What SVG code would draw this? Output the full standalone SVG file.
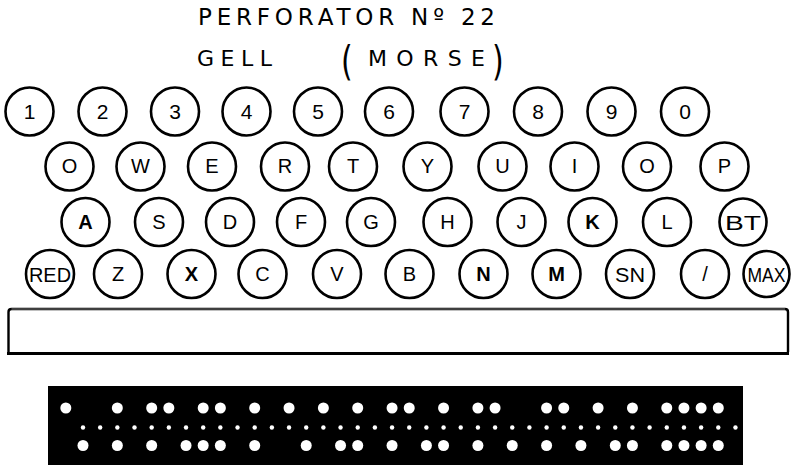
<svg xmlns="http://www.w3.org/2000/svg" width="794" height="467" viewBox="0 0 794 467">
<style>
.k{fill:#fff;stroke:#000;stroke-width:2.6}
.t{font-family:"Liberation Sans",Arial,sans-serif;fill:#000;text-anchor:middle}
.d{font-size:21px}
.l{font-size:20px}
.b{font-weight:bold}
.ti{font-family:"DejaVu Sans","Liberation Sans",Arial,sans-serif;fill:#000}
.h{fill:#fff}
</style>
<rect width="794" height="467" fill="#fff"/>
<g id="title">
<text class="ti" x="198" y="25" font-size="23" textLength="297" lengthAdjust="spacing">PERFORATOR Nº 22</text>
<text class="ti" x="197" y="66" font-size="22" textLength="75" lengthAdjust="spacing">GELL</text>
<text class="ti" x="0" y="0" font-size="30" transform="translate(341,75) scale(1,1.35)">(</text>
<text class="ti" x="368" y="66" font-size="22" textLength="117" lengthAdjust="spacing">MORSE</text>
<text class="ti" x="0" y="0" font-size="30" transform="translate(492,75) scale(1,1.35)">)</text>
</g>
<g id="row1">
<g id="k1"><circle class="k" cx="29.5" cy="111.5" r="24"/><text class="t d" x="29.5" y="119">1</text></g>
<g id="k2"><circle class="k" cx="102.5" cy="111.5" r="24"/><text class="t d" x="102.5" y="119">2</text></g>
<g id="k3"><circle class="k" cx="175" cy="111.5" r="24"/><text class="t d" x="175" y="119">3</text></g>
<g id="k4"><circle class="k" cx="246.5" cy="111.5" r="24"/><text class="t d" x="246.5" y="119">4</text></g>
<g id="k5"><circle class="k" cx="318" cy="111.5" r="24"/><text class="t d" x="318" y="119">5</text></g>
<g id="k6"><circle class="k" cx="389" cy="111.5" r="24"/><text class="t d" x="389" y="119">6</text></g>
<g id="k7"><circle class="k" cx="464.5" cy="111.5" r="24"/><text class="t d" x="464.5" y="119">7</text></g>
<g id="k8"><circle class="k" cx="538" cy="111.5" r="24"/><text class="t d" x="538" y="119">8</text></g>
<g id="k9"><circle class="k" cx="611.5" cy="111.5" r="24"/><text class="t d" x="611.5" y="119">9</text></g>
<g id="k0"><circle class="k" cx="685" cy="111.5" r="24"/><text class="t d" x="685" y="119">0</text></g>
</g>
<g id="row2">
<g id="kQ"><circle class="k" cx="69.5" cy="166.5" r="24"/><text class="t l" x="69.5" y="173">O</text></g>
<g id="kW"><circle class="k" cx="140.5" cy="166.5" r="24"/><text class="t l" x="140.5" y="173">W</text></g>
<g id="kE"><circle class="k" cx="212" cy="166.5" r="24"/><text class="t l" x="212" y="173">E</text></g>
<g id="kR"><circle class="k" cx="285" cy="166.5" r="24"/><text class="t l" x="285" y="173">R</text></g>
<g id="kT"><circle class="k" cx="353" cy="166.5" r="24"/><text class="t l" x="353" y="173">T</text></g>
<g id="kY"><circle class="k" cx="427.5" cy="166.5" r="24"/><text class="t l" x="427.5" y="173">Y</text></g>
<g id="kU"><circle class="k" cx="502.5" cy="166.5" r="24"/><text class="t l" x="502.5" y="173">U</text></g>
<g id="kI"><circle class="k" cx="574.5" cy="166.5" r="24"/><text class="t l" x="574.5" y="173">I</text></g>
<g id="kO"><circle class="k" cx="647" cy="166.5" r="24"/><text class="t l" x="647" y="173">O</text></g>
<g id="kP"><circle class="k" cx="724.5" cy="166.5" r="24"/><text class="t l" x="724.5" y="173">P</text></g>
</g>
<g id="row3">
<g id="kA"><circle class="k" cx="85.5" cy="222" r="24"/><text class="t l b" x="85.5" y="229">A</text></g>
<g id="kS"><circle class="k" cx="159" cy="222" r="24"/><text class="t l" x="159" y="229">S</text></g>
<g id="kD"><circle class="k" cx="230" cy="222" r="24"/><text class="t l" x="230" y="229">D</text></g>
<g id="kF"><circle class="k" cx="301" cy="222" r="24"/><text class="t l" x="301" y="229">F</text></g>
<g id="kG"><circle class="k" cx="371" cy="222" r="24"/><text class="t l" x="371" y="229">G</text></g>
<g id="kH"><circle class="k" cx="447.5" cy="222" r="24"/><text class="t l" x="447.5" y="229">H</text></g>
<g id="kJ"><circle class="k" cx="521.5" cy="222" r="24"/><text class="t l" x="521.5" y="229">J</text></g>
<g id="kK"><circle class="k" cx="592.5" cy="222" r="24"/><text class="t l b" x="592.5" y="229">K</text></g>
<g id="kL"><circle class="k" cx="667" cy="222" r="24"/><text class="t l" x="667" y="229">L</text></g>
<g id="kBT"><circle class="k" cx="743" cy="222" r="23.5"/><text class="t l" x="743" y="230" font-size="23" textLength="36" lengthAdjust="spacingAndGlyphs">BT</text></g>
</g>
<g id="row4">
<g id="kRED"><circle class="k" cx="50" cy="274" r="24"/><text class="t l" x="50" y="281.5" font-size="21" textLength="42" lengthAdjust="spacingAndGlyphs">RED</text></g>
<g id="kZ"><circle class="k" cx="118" cy="274" r="24"/><text class="t l" x="118" y="281">Z</text></g>
<g id="kX"><circle class="k" cx="191.5" cy="274" r="24"/><text class="t l b" x="191.5" y="281">X</text></g>
<g id="kC"><circle class="k" cx="262.5" cy="274" r="24"/><text class="t l" x="262.5" y="281">C</text></g>
<g id="kV"><circle class="k" cx="337" cy="274" r="24"/><text class="t l" x="337" y="281">V</text></g>
<g id="kB"><circle class="k" cx="409.5" cy="274" r="24"/><text class="t l" x="409.5" y="281">B</text></g>
<g id="kN"><circle class="k" cx="483.5" cy="274" r="24"/><text class="t l b" x="483.5" y="281">N</text></g>
<g id="kM"><circle class="k" cx="556.5" cy="274" r="24"/><text class="t l b" x="556.5" y="281">M</text></g>
<g id="kSN"><circle class="k" cx="630" cy="274" r="24"/><text class="t l" x="630" y="281.5" font-size="22" textLength="30" lengthAdjust="spacingAndGlyphs">SN</text></g>
<g id="kSL"><circle class="k" cx="705" cy="274" r="24"/><text class="t l" x="705" y="281">/</text></g>
<g id="kMAX"><circle class="k" cx="766.5" cy="274" r="23"/><text class="t l" x="766.5" y="281.5" font-size="20" textLength="38" lengthAdjust="spacingAndGlyphs">MAX</text></g>
</g>
<g id="spacebar" fill="none" stroke="#000">
<path d="M8.5,352 V312 Q8.5,309 11.5,309 H785 Q788,309 788,312 V352" stroke-width="2.4"/>
<path d="M11.5,309 H785" stroke="#555" stroke-width="1.4"/>
<path d="M7,353.5 H789" stroke-width="3"/>
</g>
<g id="tape">
<rect x="48" y="386" width="695" height="79" fill="#000"/>
<g class="h">
<circle cx="65.83" cy="408" r="5.5"/><circle cx="117.34" cy="408" r="5.5"/><circle cx="151.68" cy="408" r="5.5"/><circle cx="168.85" cy="408" r="5.5"/><circle cx="203.19" cy="408" r="5.5"/><circle cx="220.36" cy="408" r="5.5"/><circle cx="254.7" cy="408" r="5.5"/><circle cx="289.04" cy="408" r="5.5"/><circle cx="323.38" cy="408" r="5.5"/><circle cx="357.72" cy="408" r="5.5"/><circle cx="392.06" cy="408" r="5.5"/><circle cx="409.23" cy="408" r="5.5"/><circle cx="443.57" cy="408" r="5.5"/><circle cx="477.91" cy="408" r="5.5"/><circle cx="495.08" cy="408" r="5.5"/><circle cx="546.59" cy="408" r="5.5"/><circle cx="563.76" cy="408" r="5.5"/><circle cx="598.1" cy="408" r="5.5"/><circle cx="632.44" cy="408" r="5.5"/><circle cx="666.78" cy="408" r="5.5"/><circle cx="683.95" cy="408" r="5.5"/><circle cx="701.12" cy="408" r="5.5"/><circle cx="718.29" cy="408" r="5.5"/>
</g>
<g class="h">
<circle cx="83" cy="427.5" r="2.2"/><circle cx="100.17" cy="427.5" r="2.2"/><circle cx="117.34" cy="427.5" r="2.2"/><circle cx="134.51" cy="427.5" r="2.2"/><circle cx="151.68" cy="427.5" r="2.2"/><circle cx="168.85" cy="427.5" r="2.2"/><circle cx="186.02" cy="427.5" r="2.2"/><circle cx="203.19" cy="427.5" r="2.2"/><circle cx="220.36" cy="427.5" r="2.2"/><circle cx="237.53" cy="427.5" r="2.2"/><circle cx="254.7" cy="427.5" r="2.2"/><circle cx="271.87" cy="427.5" r="2.2"/><circle cx="289.04" cy="427.5" r="2.2"/><circle cx="306.21" cy="427.5" r="2.2"/><circle cx="323.38" cy="427.5" r="2.2"/><circle cx="340.55" cy="427.5" r="2.2"/><circle cx="357.72" cy="427.5" r="2.2"/><circle cx="374.89" cy="427.5" r="2.2"/><circle cx="392.06" cy="427.5" r="2.2"/><circle cx="409.23" cy="427.5" r="2.2"/><circle cx="426.4" cy="427.5" r="2.2"/><circle cx="443.57" cy="427.5" r="2.2"/><circle cx="460.74" cy="427.5" r="2.2"/><circle cx="477.91" cy="427.5" r="2.2"/><circle cx="495.08" cy="427.5" r="2.2"/><circle cx="512.25" cy="427.5" r="2.2"/><circle cx="529.42" cy="427.5" r="2.2"/><circle cx="546.59" cy="427.5" r="2.2"/><circle cx="563.76" cy="427.5" r="2.2"/><circle cx="580.93" cy="427.5" r="2.2"/><circle cx="598.1" cy="427.5" r="2.2"/><circle cx="615.27" cy="427.5" r="2.2"/><circle cx="632.44" cy="427.5" r="2.2"/><circle cx="649.61" cy="427.5" r="2.2"/><circle cx="666.78" cy="427.5" r="2.2"/><circle cx="683.95" cy="427.5" r="2.2"/><circle cx="701.12" cy="427.5" r="2.2"/><circle cx="718.29" cy="427.5" r="2.2"/><circle cx="735.46" cy="427.5" r="2.2"/>
</g>
<g class="h">
<circle cx="83" cy="445.5" r="5.5"/><circle cx="117.34" cy="445.5" r="5.5"/><circle cx="151.68" cy="445.5" r="5.5"/><circle cx="186.02" cy="445.5" r="5.5"/><circle cx="203.19" cy="445.5" r="5.5"/><circle cx="220.36" cy="445.5" r="5.5"/><circle cx="254.7" cy="445.5" r="5.5"/><circle cx="306.21" cy="445.5" r="5.5"/><circle cx="340.55" cy="445.5" r="5.5"/><circle cx="357.72" cy="445.5" r="5.5"/><circle cx="392.06" cy="445.5" r="5.5"/><circle cx="426.4" cy="445.5" r="5.5"/><circle cx="443.57" cy="445.5" r="5.5"/><circle cx="477.91" cy="445.5" r="5.5"/><circle cx="512.25" cy="445.5" r="5.5"/><circle cx="546.59" cy="445.5" r="5.5"/><circle cx="580.93" cy="445.5" r="5.5"/><circle cx="615.27" cy="445.5" r="5.5"/><circle cx="632.44" cy="445.5" r="5.5"/><circle cx="666.78" cy="445.5" r="5.5"/><circle cx="683.95" cy="445.5" r="5.5"/><circle cx="701.12" cy="445.5" r="5.5"/><circle cx="718.29" cy="445.5" r="5.5"/>
</g>
</g>
</svg>
